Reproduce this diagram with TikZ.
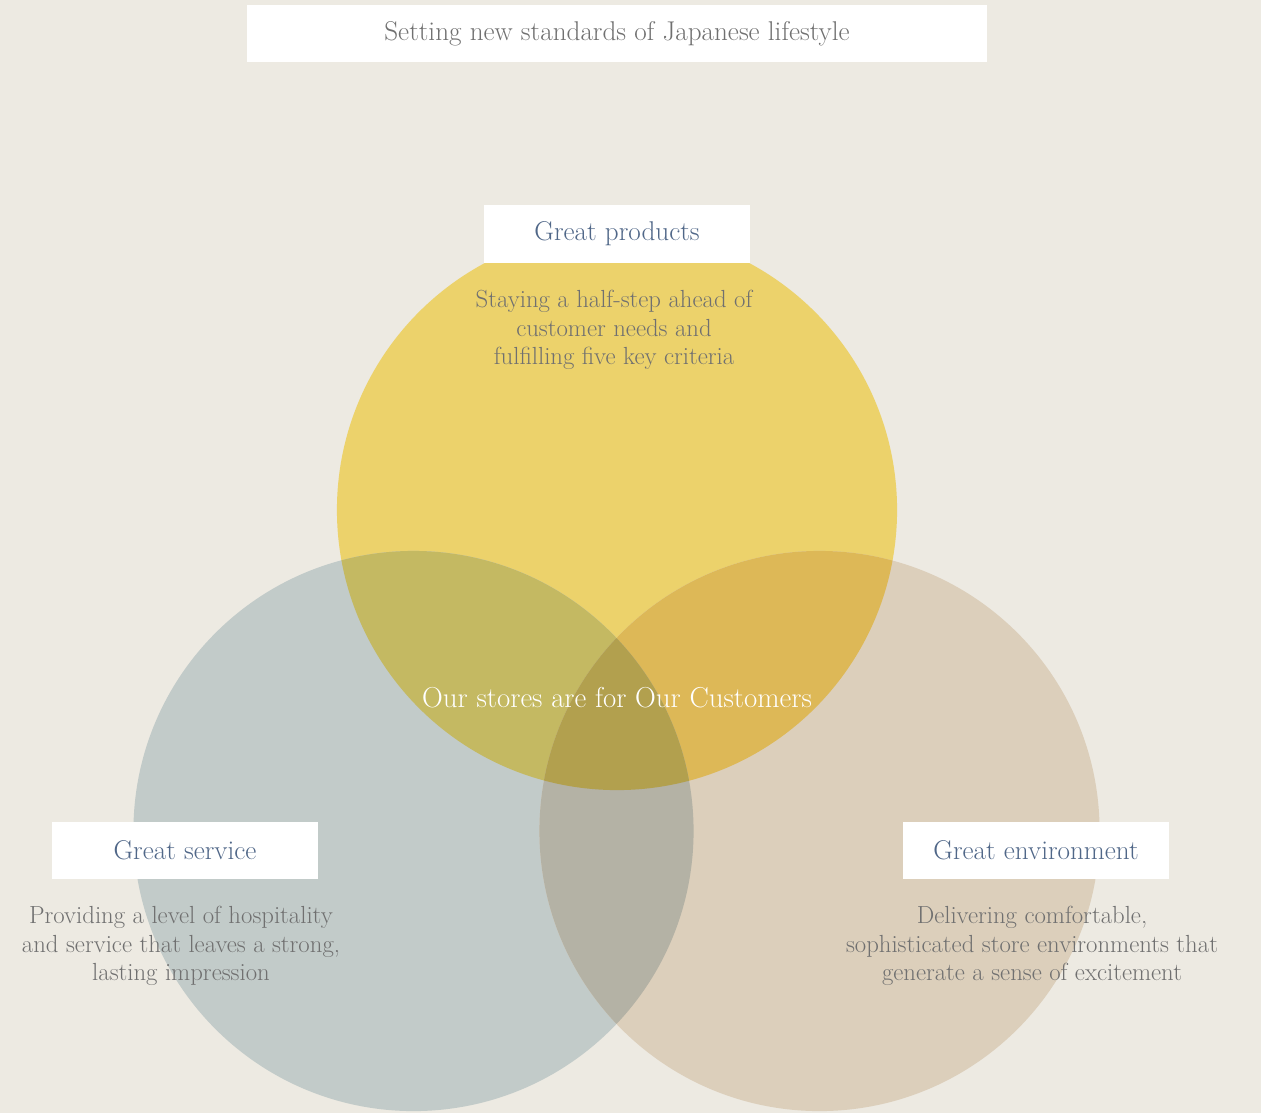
\documentclass[tikz,border=0pt]{standalone}
\usepackage{tikz}

\definecolor{paper}{HTML}{EDEAE2}
\definecolor{prodyellow}{HTML}{ECD26B}
\definecolor{servgray}{HTML}{C2CBC9}
\definecolor{envbeige}{HTML}{DCCFBB}
\definecolor{prodserv}{HTML}{C4B962}
\definecolor{prodenv}{HTML}{DDB857}
\definecolor{servenv}{HTML}{B4B2A5}
\definecolor{allthree}{HTML}{B2A04E}
\definecolor{headblue}{HTML}{506788}
\definecolor{descgray}{HTML}{707070}

\begin{document}
\begin{tikzpicture}[x=0.025cm,y=-0.025cm,
    labelbox/.style={fill=white, text=headblue, minimum width=6.65cm, minimum height=1.425cm,
      font=\fontsize{19.3}{23}\selectfont},
    desc/.style={text=descgray, align=center, font=\fontsize{17.6}{20.3}\selectfont}]
  \useasboundingbox (0,0) rectangle (1261,1113);
  \fill[paper] (0,0) rectangle (1261,1113);

  % the three circles
  \coordinate (prod) at (617,510);
  \coordinate (serv) at (413.5,831);
  \coordinate (env) at (819.5,831);
  \fill[prodyellow] (prod) circle[radius=7cm];
  \fill[servgray] (serv) circle[radius=7cm];
  \fill[envbeige] (env) circle[radius=7cm];
  \begin{scope}
    \clip (prod) circle[radius=7cm];
    \fill[prodserv] (serv) circle[radius=7cm];
    \fill[prodenv] (env) circle[radius=7cm];
  \end{scope}
  \begin{scope}
    \clip (serv) circle[radius=7cm];
    \fill[servenv] (env) circle[radius=7cm];
    \clip (env) circle[radius=7cm];
    \fill[allthree] (prod) circle[radius=7cm];
  \end{scope}

  % labels
  \node[labelbox, text=descgray, minimum width=18.5cm] (title) at (617,33.5) {Setting new standards of Japanese lifestyle};
  \node[labelbox] (products) at (617,234) {Great products};
  \node[labelbox] (service) at (185,850) {Great service};
  \node[labelbox] (environment) at (1036,850) {Great environment};

  \node[desc] (proddesc) at (614,330) {Staying a half-step ahead of\\customer needs and\\fulfilling five key criteria};
  \node[desc] (servdesc) at (181,946) {Providing a level of hospitality\\and service that leaves a strong,\\lasting impression};
  \node[desc] (envdesc) at (1032,946) {Delivering comfortable,\\sophisticated store environments that\\generate a sense of excitement};

  \node[text=white, font=\fontsize{20.5}{24}\selectfont] (customers) at (617,698) {Our stores are for Our Customers};
\end{tikzpicture}
\end{document}
